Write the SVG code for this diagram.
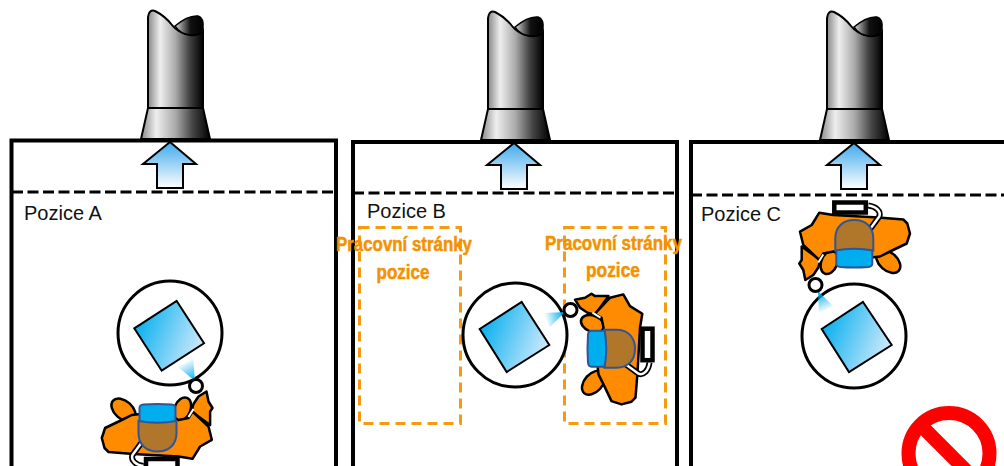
<svg xmlns="http://www.w3.org/2000/svg" width="1004" height="466" viewBox="0 0 1004 466">
<style>
.wall{fill:none;stroke:#000;stroke-width:4}
.dash{fill:none;stroke:#000;stroke-width:3;stroke-dasharray:11 4.500}
.zone{fill:none;stroke:#f39c12;stroke-width:3;stroke-dasharray:10 6}
.pos{font-family:"Liberation Sans",sans-serif;font-size:20px;fill:#111}
.lab{font-family:"Liberation Sans Narrow","Liberation Sans",sans-serif;font-weight:700;font-size:20px;fill:#f39200;stroke:#f39200;stroke-width:.5}
.ring{fill:#fff;stroke:#000;stroke-width:3}
.sq{fill:url(#gSq);stroke:#000;stroke-width:2}
.body{fill:#ff8c00;stroke:#000;stroke-width:2.500;stroke-linejoin:round}
</style>
<defs>
<linearGradient id="gCh" x1="0" x2="1" y1="0" y2="0"><stop offset="0" stop-color="#888"/><stop offset=".22" stop-color="#eee"/><stop offset=".5" stop-color="#aaa"/><stop offset=".75" stop-color="#444"/><stop offset="1" stop-color="#000"/></linearGradient>
<linearGradient id="gIn" x1="0" x2="1" y1="0" y2="0"><stop offset="0" stop-color="#ddd"/><stop offset=".55" stop-color="#111"/><stop offset="1" stop-color="#000"/></linearGradient>
<linearGradient id="gAr" x1="0" x2="0" y1="0" y2="1"><stop offset="0" stop-color="#3fa9ec"/><stop offset="1" stop-color="#fff"/></linearGradient>
<linearGradient id="gSq" x1="0" x2="1" y1="0.3" y2="0.7"><stop offset="0" stop-color="#00aeef"/><stop offset="1" stop-color="#d8ecfc"/></linearGradient>
<linearGradient id="gBeamA" gradientUnits="userSpaceOnUse" x1="194" y1="381" x2="184" y2="362"><stop offset="0" stop-color="#00aeef"/><stop offset="1" stop-color="#00aeef" stop-opacity="0"/></linearGradient>
<linearGradient id="gBeamB" gradientUnits="userSpaceOnUse" x1="564" y1="313" x2="545" y2="318"><stop offset="0" stop-color="#00aeef"/><stop offset="1" stop-color="#00aeef" stop-opacity="0"/></linearGradient>
<linearGradient id="gBeamC" gradientUnits="userSpaceOnUse" x1="818" y1="292" x2="826" y2="311"><stop offset="0" stop-color="#00aeef"/><stop offset="1" stop-color="#00aeef" stop-opacity="0"/></linearGradient>
<g id="chimney">
<path d="M148,108V17Q149,9 155,11Q165,16 172,25Q178,33 190,35Q200,36 203,31V108Z" fill="url(#gCh)" stroke="#000" stroke-width="2"/>
<path d="M175,26Q188,15 198,16Q204,18 203,28Q200,36 190,35Q180,34 175,26Z" fill="url(#gIn)" stroke="#000" stroke-width="1.500"/>
<path d="M148,108H203L210,139H141Z" fill="url(#gCh)" stroke="#000" stroke-width="2"/>
</g>
<path id="arrow" d="M170,142L196,164H183V188H157V164H143Z" fill="url(#gAr)" stroke="#000" stroke-width="2"/>
<g id="person">
<ellipse cx="34" cy="18" rx="14" ry="9" transform="rotate(42 34 18)" class="body"/>
<ellipse cx="-25" cy="19" rx="8" ry="12" transform="rotate(22 -25 19)" class="body"/>
<path class="body" d="M-52.600,3L-52.600,16.500L-55,20L-51,26.500L-49,36.500L-41,31.500L-36,24L-34,16.500Z"/>
<path class="body" d="M-54.300,-11.800L-42.600,-18.500L-35,-30.800L-21,-28.500L24,-26L49,-24L53,-20L55.700,-10L52.400,0L35.700,8L25.700,13L17,14L-21,8L-31,10L-35,16.500L-51,1.500Z"/>
<path d="M-31,11L-36,19" fill="none" stroke="#fff" stroke-width="2"/>
<path d="M14,-38C22,-37 27,-32 25,-27L14,-12" fill="none" stroke="#000" stroke-width="6"/>
<path d="M14,-38C22,-37 27,-32 25,-27L14,-12" fill="none" stroke="#fff" stroke-width="2.500"/>
<rect x="-20" y="-41" width="31.500" height="10" fill="#fff" stroke="#000" stroke-width="4.500"/>
<path d="M-18,4V20Q-18,23 -14,23.500Q0,24.500 14,23.500Q18,23 18,20V4Z" fill="#00aeef" stroke="#2f5597" stroke-width="2"/>
<path d="M-19,7V-5C-19,-17 -11,-23.500 0,-23.500C11,-23.500 19,-17 19,-5V7Q0,3.500 -19,7Z" fill="#b0762a" stroke="#2f5597" stroke-width="2"/>
</g>
</defs>
<g id="panel-a">
<use href="#chimney"/>
<path class="wall" d="M11.500,466V140.500H336V466"/>
<use href="#arrow"/>
<path class="dash" d="M12,192H336"/>
<text class="pos" x="24" y="219.500">Pozice A</text>
</g>
<g id="panel-b">
<use href="#chimney" transform="translate(340,1)"/>
<path class="wall" d="M353,466V142H677V466"/>
<use href="#arrow" transform="translate(344,1)"/>
<path class="dash" d="M353,193H677"/>
<text class="pos" x="367" y="217.500">Pozice B</text>
<rect class="zone" x="359.500" y="227.500" width="101" height="196"/>
<rect class="zone" x="564.500" y="227.500" width="101" height="196"/>
</g>
<g id="panel-c">
<use href="#chimney" transform="translate(679,1)"/>
<path class="wall" d="M691,466V142H1004"/>
<use href="#arrow" transform="translate(684,1)"/>
<path class="dash" d="M691,195H1004"/>
<text class="pos" x="701" y="220.500">Pozice C</text>
</g>
<g id="view-a">
<use href="#person" transform="translate(157.500,428) rotate(180)"/>
<circle class="ring" cx="170" cy="333" r="52"/>
<path class="sq" d="M176.700,301L204,343.300L161.700,370.700L134.300,328.300Z"/>
<path d="M195,381L178,367L193,358Z" fill="url(#gBeamA)"/>
<circle class="ring" cx="196" cy="386" r="6.500"/>
</g>
<g id="view-b">
<use href="#person" transform="translate(611.500,348.700) rotate(90)"/>
<circle class="ring" cx="515" cy="335" r="52"/>
<path class="sq" d="M521.700,302L549.300,345L506.700,372L479.700,329Z"/>
<path d="M565,312L543,313L550,327Z" fill="url(#gBeamB)"/>
<circle class="ring" cx="570.500" cy="310" r="6.500"/>
</g>
<g id="view-c">
<use href="#person" transform="translate(854.300,243.500)"/>
<circle class="ring" cx="854" cy="336" r="52"/>
<path class="sq" d="M863,302L891.700,345L849,372L821.700,329Z"/>
<path d="M818,291L833,306L819,313Z" fill="url(#gBeamC)"/>
<circle class="ring" cx="815.500" cy="285" r="6.500"/>
</g>
<g id="zone-labels">
<text class="lab" x="404" y="251" text-anchor="middle" textLength="136" lengthAdjust="spacingAndGlyphs">Pracovní stránky</text>
<text class="lab" x="403" y="279" text-anchor="middle" textLength="53" lengthAdjust="spacingAndGlyphs">pozice</text>
<text class="lab" x="613.500" y="250" text-anchor="middle" textLength="137" lengthAdjust="spacingAndGlyphs">Pracovní stránky</text>
<text class="lab" x="613" y="277" text-anchor="middle" textLength="54" lengthAdjust="spacingAndGlyphs">pozice</text>
</g>
<g id="no-sign">
<circle cx="949" cy="453.500" r="40.500" fill="#fff" stroke="#f00" stroke-width="14"/>
<path d="M920,424.500L978,482.500" stroke="#f00" stroke-width="14"/>
</g>
</svg>
